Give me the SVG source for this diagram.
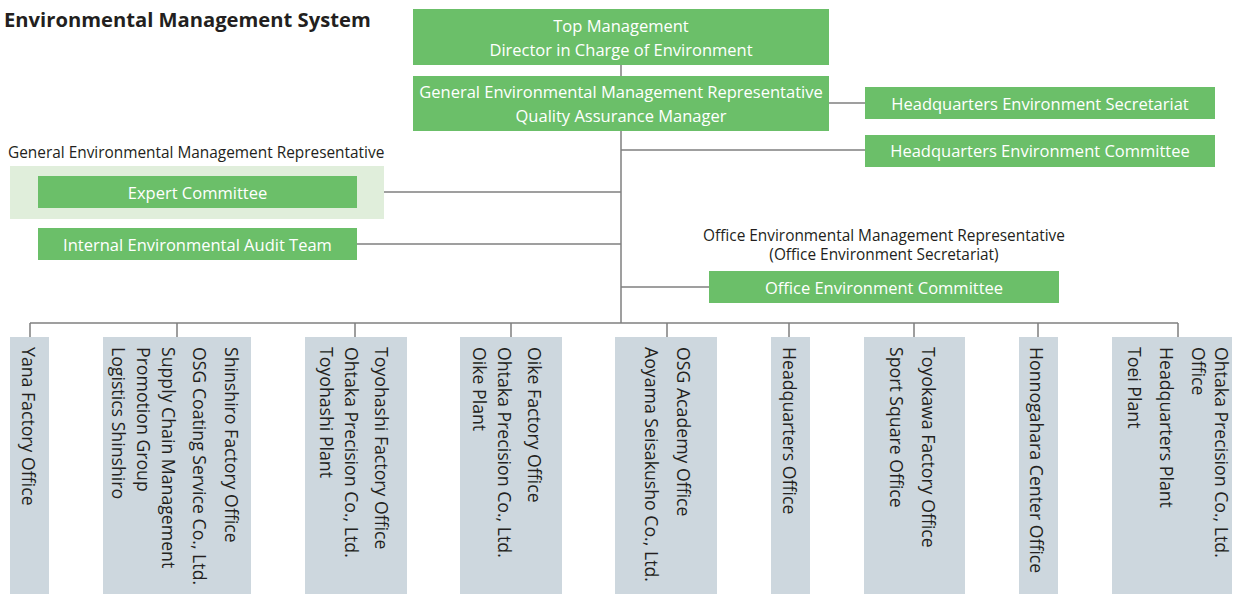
<svg xmlns="http://www.w3.org/2000/svg" width="1242" height="594" viewBox="0 0 1242 594">
<style>
  text { font-family: "Open Sans", "Noto Sans", "Liberation Sans", sans-serif; }
  .title { font-size: 20.2px; font-weight: bold; fill: #231f20; }
  .g { fill: #6bbf69; }
  .pale { fill: #e0eedb; }
  .gray { fill: #cdd7de; }
  .wt { font-size: 16.5px; fill: #ffffff; text-anchor: middle; }
  .lbl { font-size: 15.4px; fill: #231f20; }
  .lblc { font-size: 15.4px; fill: #231f20; text-anchor: middle; }
  .vt { font-size: 17.7px; fill: #231f20; }
  .ln { stroke: #7f7f7f; stroke-width: 1.5; fill: none; }
</style>
<rect width="1242" height="594" fill="#ffffff"/>
<text class="title" x="4" y="27">Environmental Management System</text>

<g id="connectors">
  <path class="ln" d="M621 65 V323"/>
  <path class="ln" d="M829 103 H865"/>
  <path class="ln" d="M621 150 H865"/>
  <path class="ln" d="M357 192 H621"/>
  <path class="ln" d="M357 244 H621"/>
  <path class="ln" d="M621 287 H709"/>
  <path class="ln" d="M30 323 H1178"/>
  <path class="ln" d="M30 323 V337 M177 323 V337 M355 323 V337 M511 323 V337 M667 323 V337 M789 323 V337 M914 323 V337 M1038 323 V337 M1178 323 V337"/>
</g>

<g id="top-management">
  <rect class="g" x="413" y="9" width="416" height="56"/>
  <text class="wt" x="621" y="32">Top Management</text>
  <text class="wt" x="621" y="56">Director in Charge of Environment</text>
</g>
<g id="general-rep">
  <rect class="g" x="413" y="76" width="416" height="55"/>
  <text class="wt" x="621" y="98">General Environmental Management Representative</text>
  <text class="wt" x="621" y="122">Quality Assurance Manager</text>
</g>
<g id="hq-secretariat">
  <rect class="g" x="865" y="87" width="350" height="32"/>
  <text class="wt" x="1040" y="110">Headquarters Environment Secretariat</text>
</g>
<g id="hq-committee">
  <rect class="g" x="865" y="135" width="350" height="32"/>
  <text class="wt" x="1040" y="157">Headquarters Environment Committee</text>
</g>
<g id="expert-committee">
  <text class="lbl" x="8" y="158">General Environmental Management Representative</text>
  <rect class="pale" x="10" y="166" width="374" height="53"/>
  <rect class="g" x="38" y="176" width="319" height="32"/>
  <text class="wt" x="197.5" y="199">Expert Committee</text>
</g>
<g id="audit-team">
  <rect class="g" x="38" y="228" width="319" height="32"/>
  <text class="wt" x="197.5" y="251">Internal Environmental Audit Team</text>
</g>
<g id="office-committee">
  <text class="lblc" x="884" y="241">Office Environmental Management Representative</text>
  <text class="lblc" x="884" y="260">(Office Environment Secretariat)</text>
  <rect class="g" x="709" y="271" width="350" height="32"/>
  <text class="wt" x="884" y="294">Office Environment Committee</text>
</g>

<g id="yana">
  <rect class="gray" x="10" y="337" width="39" height="257"/>
  <text class="vt" transform="translate(22 347) rotate(90)">Yana Factory Office</text>
</g>
<g id="shinshiro">
  <rect class="gray" x="103" y="337" width="148" height="257"/>
  <text class="vt" transform="translate(225 347) rotate(90)">Shinshiro Factory Office</text>
  <text class="vt" transform="translate(193 347) rotate(90)">OSG Coating Service Co., Ltd.</text>
  <text class="vt" transform="translate(162 347) rotate(90)">Supply Chain Management</text>
  <text class="vt" transform="translate(137 347) rotate(90)">Promotion Group</text>
  <text class="vt" transform="translate(112 347) rotate(90)">Logistics Shinshiro</text>
</g>
<g id="toyohashi">
  <rect class="gray" x="305" y="337" width="102" height="257"/>
  <text class="vt" transform="translate(375 347) rotate(90)">Toyohashi Factory Office</text>
  <text class="vt" transform="translate(345 347) rotate(90)">Ohtaka Precision Co., Ltd.</text>
  <text class="vt" transform="translate(320 347) rotate(90)">Toyohashi Plant</text>
</g>
<g id="oike">
  <rect class="gray" x="460" y="337" width="102" height="257"/>
  <text class="vt" transform="translate(528 347) rotate(90)">Oike Factory Office</text>
  <text class="vt" transform="translate(498 347) rotate(90)">Ohtaka Precision Co., Ltd.</text>
  <text class="vt" transform="translate(473 347) rotate(90)">Oike Plant</text>
</g>
<g id="osg-academy">
  <rect class="gray" x="615" y="337" width="102" height="257"/>
  <text class="vt" transform="translate(677 347) rotate(90)">OSG Academy Office</text>
  <text class="vt" transform="translate(645 347) rotate(90)">Aoyama Seisakusho Co., Ltd.</text>
</g>
<g id="hq-office">
  <rect class="gray" x="771" y="337" width="39" height="257"/>
  <text class="vt" transform="translate(783 347) rotate(90)">Headquarters Office</text>
</g>
<g id="toyokawa">
  <rect class="gray" x="864" y="337" width="101" height="257"/>
  <text class="vt" transform="translate(922 347) rotate(90)">Toyokawa Factory Office</text>
  <text class="vt" transform="translate(890 347) rotate(90)">Sport Square Office</text>
</g>
<g id="honnogahara">
  <rect class="gray" x="1019" y="337" width="39" height="257"/>
  <text class="vt" transform="translate(1030 347) rotate(90)">Honnogahara Center Office</text>
</g>
<g id="ohtaka">
  <rect class="gray" x="1112" y="337" width="120" height="257"/>
  <text class="vt" transform="translate(1215 347) rotate(90)">Ohtaka Precision Co., Ltd.</text>
  <text class="vt" transform="translate(1192 347) rotate(90)">Office</text>
  <text class="vt" transform="translate(1160 347) rotate(90)">Headquarters Plant</text>
  <text class="vt" transform="translate(1128 347) rotate(90)">Toei Plant</text>
</g>
</svg>
